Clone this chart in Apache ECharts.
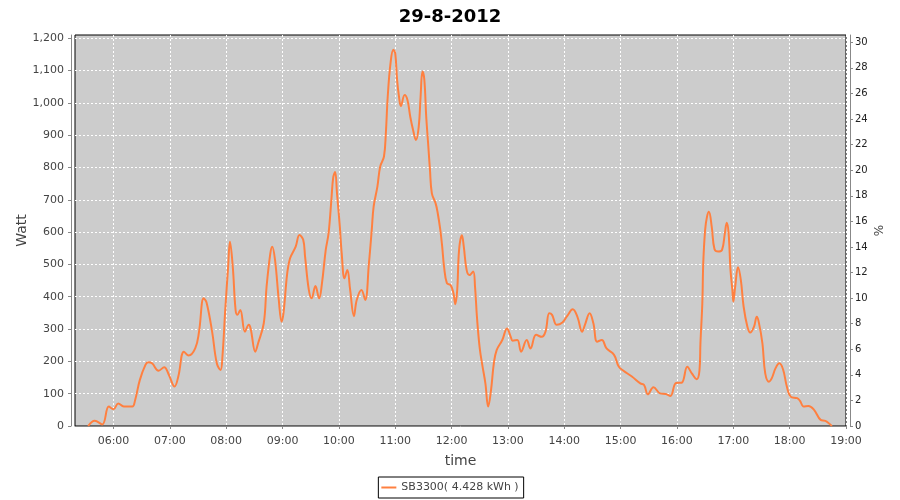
<!DOCTYPE html>
<html>
<head>
<meta charset="utf-8">
<script src="https://cdn.jsdelivr.net/npm/echarts@6/dist/echarts.min.js"></script>
<style>
  html, body { margin: 0; padding: 0; background: #fff; }
  #main { width: 900px; height: 500px; }
</style>
</head>
<body>
<div id="main"></div>
<script>
// meetpunten SB3300, 29-8-2012 (tijd, vermogen in Watt)
var times = [
  '05:33','05:40','05:48','05:55','06:00','06:05','06:11','06:20','06:23','06:28',
  '06:34','06:37','06:41','06:48','06:54','06:59','07:05','07:09','07:15','07:20',
  '07:27','07:31','07:36','07:39','07:45','07:50','07:54','07:56','07:59','08:02',
  '08:04','08:07','08:10','08:12','08:15','08:20','08:24','08:26','08:31','08:34',
  '08:40','08:43','08:47','08:49','08:52','08:56','08:59','09:01','09:05','09:08',
  '09:14','09:18','09:22','09:24','09:28','09:31','09:35','09:39','09:42','09:46',
  '09:49','09:52','09:54','09:56','09:58','10:01','10:03','10:06','10:09','10:12',
  '10:16','10:19','10:24','10:28','10:32','10:35','10:37','10:41','10:44','10:48',
  '10:50','10:52','10:55','10:58','11:00','11:02','11:04','11:06','11:10','11:13',
  '11:16','11:19','11:22','11:25','11:27','11:29','11:31','11:33','11:35','11:37',
  '11:39','11:43','11:45','11:48','11:50','11:52','11:55','11:59','12:02','12:04',
  '12:06','12:08','12:11','12:13','12:16','12:19','12:23','12:25','12:27','12:30',
  '12:33','12:36','12:39','12:42','12:45','12:48','12:54','12:59','13:03','13:05',
  '13:10','13:14','13:20','13:24','13:30','13:36','13:40','13:44','13:47','13:52',
  '13:58','14:03','14:09','14:14','14:19','14:22','14:27','14:31','14:35','14:40',
  '14:45','14:53','14:58','15:03','15:12','15:21','15:25','15:29','15:35','15:42',
  '15:48','15:53','15:59','16:05','16:11','16:16','16:21','16:24','16:25','16:27',
  '16:28','16:30','16:32','16:34','16:37','16:40','16:44','16:48','16:51','16:53',
  '16:55','16:57','16:59','17:00','17:02','17:05','17:08','17:11','17:15','17:18',
  '17:22','17:25','17:27','17:31','17:34','17:38','17:41','17:45','17:49','17:53',
  '17:57','18:01','18:08','18:11','18:15','18:20','18:26','18:33','18:38','18:42',
  '18:45'
];
var watts = [
  0, 16, 5, 60, 52, 70, 60, 60, 80, 142,
  189, 197, 194, 171, 182, 158, 122, 153, 230, 218,
  240, 290, 395, 383, 292, 194, 173, 215, 360, 490,
  570, 493, 359, 344, 359, 292, 313, 302, 230, 256,
  318, 431, 534, 555, 514, 390, 323, 349, 473, 519,
  555, 591, 576, 524, 421, 395, 433, 395, 442, 545,
  596, 700, 770, 786, 720, 617, 534, 457, 483, 421,
  340, 390, 421, 390, 504, 607, 679, 741, 803, 834,
  906, 1019, 1123, 1164, 1153, 1071, 1019, 990, 1024, 1009,
  957, 916, 885, 926, 1019, 1097, 1071, 957, 875, 792,
  720, 689, 663, 607, 555, 493, 442, 436, 411, 377,
  421, 545, 590, 555, 483, 467, 478, 430, 338, 240,
  184, 132, 60, 111, 194, 235, 266, 302, 276, 264,
  266, 230, 266, 240, 282, 276, 292, 349, 344, 313,
  320, 340, 361, 338, 292, 313, 349, 318, 261, 266,
  240, 220, 184, 171, 153, 132, 127, 98, 120, 101,
  99, 93, 133, 134, 183, 162, 145, 173, 256, 380,
  504, 607, 648, 663, 617, 547, 540, 545, 596, 629,
  596, 483, 421, 385, 431, 491, 452, 369, 307, 289,
  307, 338, 323, 256, 163, 137, 148, 179, 194, 175,
  122, 91, 86, 78, 60, 62, 50, 19, 16, 8,
  0
];
var hourTicks = ['06:00','07:00','08:00','09:00','10:00','11:00','12:00','13:00','14:00','15:00','16:00','17:00','18:00','19:00'];
var wattTicks = [0, 100, 200, 300, 400, 500, 600, 700, 800, 900, 1000, 1100, 1200];
var pctTicks = [0, 2, 4, 6, 8, 10, 12, 14, 16, 18, 20, 22, 24, 26, 28, 30];
var seriesName = 'SB3300( 4.428 kWh )';

function toMin(t) {
  var p = t.split(':');
  return +p[0] * 60 + +p[1];
}
function pad(n) { return (n < 10 ? '0' : '') + n; }

var points = times.map(function (t, i) { return [toMin(t), watts[i]]; });
var hourMins = hourTicks.map(toMin);

var font = 'DejaVu Sans';
var chart = echarts.init(document.getElementById('main'));

var option = {
  animation: false,
  backgroundColor: '#fff',
  title: {
    text: '29-8-2012',
    left: 'center',
    top: 3,
    textStyle: { fontFamily: font, fontSize: 18, fontWeight: 'bold', color: '#000' }
  },
  legend: {
    left: 'center',
    top: 477,
    data: [{ name: seriesName, icon: 'rect' }],
    itemWidth: 15,
    itemHeight: 2,
    itemGap: 4,
    padding: [5, 5, 5, 3],
    borderColor: '#000',
    borderWidth: 1,
    borderRadius: 0,
    textStyle: { fontFamily: font, fontSize: 11, color: '#444' }
  },
  grid: {
    left: 75,
    right: 54,
    top: 35,
    bottom: 74,
    show: true,
    backgroundColor: '#cccccc',
    borderColor: '#000',
    borderWidth: 1
  },
  xAxis: {
    type: 'value',
    min: 319,
    max: 1140,
    offset: 4,
    name: 'time',
    nameLocation: 'middle',
    nameGap: 24,
    nameMoveOverlap: false,
    nameTextStyle: { fontFamily: font, fontSize: 14, color: '#444' },
    axisLine: { show: true, lineStyle: { color: '#888', width: 1 } },
    axisTick: { show: true, length: 3, customValues: hourMins, lineStyle: { color: '#888' } },
    axisLabel: {
      customValues: hourMins,
      margin: 6,
      fontFamily: font,
      fontSize: 11,
      color: '#444',
      formatter: function (v) { return pad(Math.floor(v / 60)) + ':' + pad(v % 60); }
    },
    splitLine: { show: true, lineStyle: { color: '#fff', type: [2, 2], width: 1 } }
  },
  yAxis: [
    {
      type: 'value',
      min: 0,
      max: 1210,
      offset: 4,
      name: 'Watt',
      nameLocation: 'middle',
      nameRotate: 90,
      nameGap: 42,
      nameMoveOverlap: false,
      nameTextStyle: { fontFamily: font, fontSize: 14, color: '#444' },
      axisLine: { show: true, lineStyle: { color: '#888', width: 1 } },
      axisTick: { show: true, length: 3, customValues: wattTicks, lineStyle: { color: '#888' } },
      axisLabel: {
        customValues: wattTicks,
        margin: 7,
        fontFamily: font,
        fontSize: 11,
        color: '#444',
        formatter: function (v) { return v.toLocaleString('en-US'); }
      },
      splitLine: { show: true, lineStyle: { color: '#fff', type: [2, 2], width: 1 } }
    },
    {
      type: 'value',
      position: 'right',
      min: 0,
      max: 30.57,
      offset: 4,
      name: '%',
      nameLocation: 'middle',
      nameRotate: 90,
      nameGap: 24,
      nameMoveOverlap: false,
      nameTextStyle: { fontFamily: font, fontSize: 12, color: '#444' },
      axisLine: { show: true, lineStyle: { color: '#888', width: 1 } },
      axisTick: { show: true, length: 3, customValues: pctTicks, lineStyle: { color: '#888' } },
      axisLabel: {
        customValues: pctTicks,
        margin: 5,
        fontFamily: font,
        fontSize: 10,
        color: '#222'
      },
      splitLine: { show: false }
    }
  ],
  series: [
    {
      name: seriesName,
      type: 'line',
      data: points,
      smooth: 0.4,
      showSymbol: false,
      lineStyle: { color: '#ff8040', width: 2 },
      itemStyle: { color: '#ff8040' }
    }
  ]
};

chart.setOption(option);
</script>
</body>
</html>
